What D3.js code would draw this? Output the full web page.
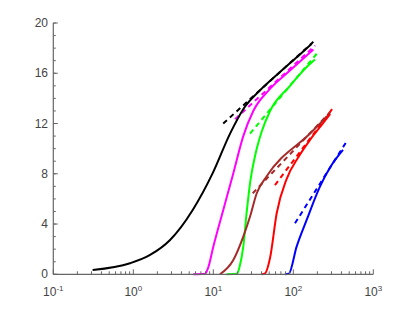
<!DOCTYPE html>
<html>
<head>
<meta charset="utf-8">
<script src="https://cdn.jsdelivr.net/npm/d3@7"></script>
<style>
  body { margin: 0; background: #fff; }
  svg { display: block; }
  .tick-label { font-family: "Liberation Sans", Arial, sans-serif; font-size: 12px; fill: #444; }
</style>
</head>
<body>
<script>
// series names and colours
var seriesNames = ["black", "magenta", "green", "brown", "red", "blue"];
var seriesColors = ["#000000", "#ff00ff", "#00ff00", "#a52a2a", "#ff0000", "#0000ff"];

// solid curves (x on log axis, y linear)
var blackX   = [0.31, 0.91, 1.62, 2.88, 5.53, 9.83, 16.2, 24, 38.4, 68.2, 121, 170];
var blackY   = [0.34, 0.88, 1.54, 2.73, 5.12, 8.05, 11.2, 13.2, 14.65, 16.1, 17.5, 18.35];
var magentaX = [5.6, 7.9, 8.6, 10, 13.3, 17.8, 23.7, 31.6, 50, 90, 178];
var magentaY = [0, 0.05, 0.5, 2.2, 5.1, 8.05, 11.0, 13.0, 14.7, 16.2, 17.9];
var greenX   = [14.7, 19.8, 21.3, 23.7, 26.2, 29, 33.2, 40, 51.2, 91, 147, 187];
var greenY   = [0, 0.05, 0.6, 2.2, 5.0, 7.4, 9.4, 11.3, 13.0, 15.0, 16.5, 17.1];
var brownX   = [12.1, 17.8, 23.7, 28.8, 34.9, 46.5, 162, 288];
var brownY   = [0, 1.14, 3.0, 4.6, 6.45, 7.8, 11.2, 12.8];
var redX     = [40.3, 44, 51.2, 62, 82.7, 115, 162, 237, 288];
var redY     = [0, 0.05, 1.3, 4.86, 7.6, 9.3, 10.7, 12.05, 12.75];
var blueX    = [78.7, 88, 110, 147, 216, 288, 418];
var blueY    = [0, 0.05, 2.2, 4.33, 7.0, 8.5, 9.9];

// dashed fit lines (start and end)
var dashX0 = [13.3, 18.7, 28.8, 31.1, 59, 105];
var dashY0 = [12.0, 12.35, 11.2, 6.45, 7.1, 4.06];
var dashX1 = [178, 187, 205, 288, 311, 456];
var dashY1 = [18.5, 18.2, 17.7, 12.9, 13.2, 10.5];

// axis ticks
var xMajor = [0.1, 1, 10, 100, 1000];
var xExp = ["-1", "0", "1", "2", "3"];
var yMajor = [0, 4, 8, 12, 16, 20];

var w = 412, h = 309;

var x = d3.scaleLog().domain([0.1, 1000]).range([53.3, 373.3]);
var y = d3.scaleLinear().domain([0, 20]).range([274.3, 23]);

var svg = d3.select("body").append("svg")
    .attr("width", w)
    .attr("height", h);

var solidX = [blackX, magentaX, greenX, brownX, redX, blueX];
var solidY = [blackY, magentaY, greenY, brownY, redY, blueY];

var line = d3.line()
    .x(function(d) { return x(d[0]); })
    .y(function(d) { return y(d[1]); })
    .curve(d3.curveMonotoneX);

//dashed lines
seriesNames.forEach(function(name, i) {
    svg.append("path")
        .datum([[dashX0[i], dashY0[i]], [dashX1[i], dashY1[i]]])
        .attr("d", d3.line().x(function(d) { return x(d[0]); }).y(function(d) { return y(d[1]); }))
        .attr("fill", "none")
        .attr("stroke", seriesColors[i])
        .attr("stroke-width", 2)
        .attr("stroke-dasharray", "5,4");
});

//solid curves
seriesNames.forEach(function(name, i) {
    var pts = solidX[i].map(function(v, j) { return [v, solidY[i][j]]; });
    svg.append("path")
        .datum(pts)
        .attr("class", "curve " + name)
        .attr("d", line)
        .attr("fill", "none")
        .attr("stroke", seriesColors[i])
        .attr("stroke-width", 2)
        .attr("stroke-linejoin", "round");
});

// axes
var axisColor = "#666";
var gx = svg.append("g");
gx.append("line")
    .attr("x1", x(0.1)).attr("x2", x(1000))
    .attr("y1", y(0)).attr("y2", y(0))
    .attr("stroke", axisColor).attr("stroke-width", 1.2);

var xMinor = [];
xMajor.slice(0, -1).forEach(function(d) {
    for (var k = 2; k <= 9; k++) xMinor.push(d * k);
});
gx.selectAll(".xminor").data(xMinor).enter().append("line")
    .attr("x1", function(d) { return x(d); }).attr("x2", function(d) { return x(d); })
    .attr("y1", y(0)).attr("y2", y(0) - 3)
    .attr("stroke", axisColor);
gx.selectAll(".xmajor").data(xMajor).enter().append("line")
    .attr("x1", function(d) { return x(d); }).attr("x2", function(d) { return x(d); })
    .attr("y1", y(0)).attr("y2", y(0) - 5)
    .attr("stroke", axisColor);

var xl = gx.selectAll(".xlab").data(xMajor).enter().append("text")
    .attr("class", "tick-label")
    .attr("x", function(d) { return x(d); })
    .attr("y", 296)
    .attr("text-anchor", "middle");
xl.append("tspan").text("10");
xl.append("tspan")
    .attr("dy", -5)
    .attr("font-size", "8px")
    .text(function(d, i) { return xExp[i]; });

var gy = svg.append("g");
gy.append("line")
    .attr("x1", x(0.1)).attr("x2", x(0.1))
    .attr("y1", y(0)).attr("y2", y(20))
    .attr("stroke", axisColor).attr("stroke-width", 1.2);
gy.selectAll(".yminor").data(d3.range(0, 21)).enter().append("line")
    .attr("x1", x(0.1)).attr("x2", x(0.1) + 2.5)
    .attr("y1", function(d) { return y(d); }).attr("y2", function(d) { return y(d); })
    .attr("stroke", axisColor);
gy.selectAll(".ymajor").data(yMajor).enter().append("line")
    .attr("x1", x(0.1)).attr("x2", x(0.1) + 4.5)
    .attr("y1", function(d) { return y(d); }).attr("y2", function(d) { return y(d); })
    .attr("stroke", axisColor);
gy.selectAll(".ylab").data(yMajor).enter().append("text")
    .attr("class", "tick-label")
    .attr("x", 48)
    .attr("y", function(d) { return y(d) + 4; })
    .attr("text-anchor", "end")
    .text(function(d) { return d; });
</script>
</body>
</html>
